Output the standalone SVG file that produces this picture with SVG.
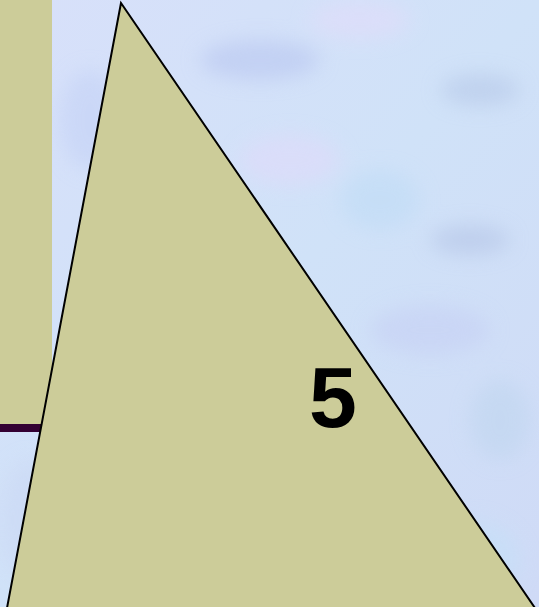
<svg xmlns="http://www.w3.org/2000/svg" width="539" height="607" viewBox="0 0 539 607">
  <style>
    .shape { fill: #CCCC99; }
    .edge { fill: #CCCC99; stroke: #000; stroke-width: 2; stroke-linejoin: miter; }
    .label { font-family: "Liberation Sans", Arial, sans-serif; font-weight: bold; font-size: 86px; fill: #000; }
  </style>
  <defs>
    <linearGradient id="bg" x1="0" y1="0" x2="1" y2="1">
      <stop offset="0" stop-color="#d8e0fa"/>
      <stop offset="0.5" stop-color="#d0e2f8"/>
      <stop offset="1" stop-color="#cfdaf6"/>
    </linearGradient>
    <filter id="blur" x="-20%" y="-20%" width="140%" height="140%">
      <feGaussianBlur stdDeviation="10"/>
    </filter>
  </defs>
  <g id="background">
    <rect x="0" y="0" width="539" height="607" fill="url(#bg)"/>
    <g filter="url(#blur)" opacity="0.6">
      <ellipse cx="260" cy="60" rx="60" ry="20" fill="#b8c6f0"/>
      <ellipse cx="360" cy="20" rx="50" ry="18" fill="#e2dcfa"/>
      <ellipse cx="480" cy="90" rx="40" ry="16" fill="#b6c8e8"/>
      <ellipse cx="290" cy="160" rx="50" ry="25" fill="#e0dafa"/>
      <ellipse cx="380" cy="200" rx="40" ry="30" fill="#c0dcf6"/>
      <ellipse cx="470" cy="240" rx="40" ry="15" fill="#b4c4e6"/>
      <ellipse cx="430" cy="330" rx="60" ry="25" fill="#c6d0f4"/>
      <ellipse cx="500" cy="420" rx="30" ry="40" fill="#c0d6ef"/>
      <ellipse cx="470" cy="560" rx="50" ry="40" fill="#c4e0f8"/>
      <ellipse cx="90" cy="120" rx="30" ry="50" fill="#c4d2f6"/>
      <ellipse cx="30" cy="520" rx="30" ry="60" fill="#cbd8f4"/>
    </g>
  </g>
  <g id="bar">
    <rect class="shape" x="0" y="0" width="52" height="424"/>
    <rect x="0" y="424" width="52" height="8" fill="#330033"/>
  </g>
  <g id="triangle">
    <polygon class="edge" points="121,3 7,608 535,608"/>
    <text class="label" x="333" y="427" text-anchor="middle">5</text>
  </g>
  <g id="connectors"/>
</svg>
